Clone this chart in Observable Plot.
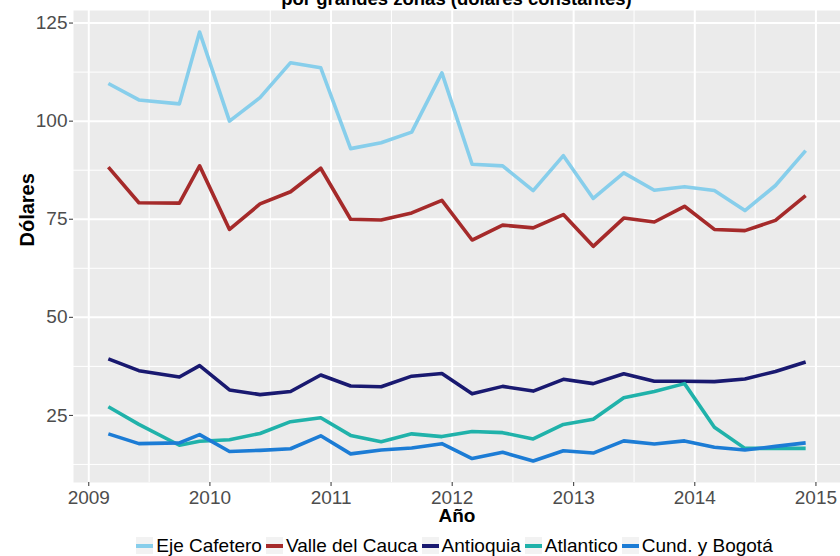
<!DOCTYPE html>
<html><head><meta charset="utf-8">
<script src="https://cdn.jsdelivr.net/npm/d3@7"></script>
<script src="https://cdn.jsdelivr.net/npm/@observablehq/plot@0.6"></script>
<style>
body{margin:0;background:#fff;font-family:"Liberation Sans",Arial,sans-serif;width:840px;height:556px;overflow:hidden;}
#title{position:relative;height:10px;}
#title span{position:absolute;left:73px;right:0;text-align:center;top:-10.2px;font-size:18.5px;line-height:18.5px;font-weight:bold;white-space:nowrap;color:#000;}
#chart svg{display:block;}
#chart g[aria-label="x-axis tick label"] text, #chart g[aria-label="y-axis tick label"] text{fill:#4D4D4D;}
#legend{display:flex;justify-content:center;align-items:center;padding-left:73px;margin-top:5px;height:17px;font-size:19px;line-height:17px;color:#000;}
#legend .item{display:flex;align-items:center;margin-right:4px;}
#legend .key{position:relative;width:17px;height:17px;background:#F2F2F2;}
#legend .key i{position:absolute;left:0;right:0;top:6.5px;height:4px;}
#legend .lab{margin-left:3px;white-space:nowrap;}
</style>
</head><body>
<div id="title"><span>por grandes zonas (dólares constantes)</span></div>
<div id="chart"></div>
<div id="legend"></div>
<script>
// Fechas (trimestrales)
const fechas = ["2009-03-01","2009-06-01","2009-10-01","2009-12-01",
  "2010-03-01","2010-06-01","2010-09-01","2010-12-01",
  "2011-03-01","2011-06-01","2011-09-01","2011-12-01",
  "2012-03-01","2012-06-01","2012-09-01","2012-12-01",
  "2013-03-01","2013-06-01","2013-09-01","2013-12-01",
  "2014-03-01","2014-06-01","2014-09-01","2014-12-01"];
const zonas = ["Eje Cafetero","Valle del Cauca","Antioquia","Atlantico","Cund. y Bogotá"];
const colores = ["#87CEEB","#A52A2A","#191970","#20B2AA","#1C7CD5"];
const ejeCafetero = [109.6,105.4,104.4,122.7, 100.0,106.0,114.9,113.6, 93.0,94.5,97.2,112.3, 89.0,88.6,82.3,91.2, 80.3,86.8,82.4,83.3, 82.3,77.2,83.6,92.5];
const valleCauca = [88.3,79.2,79.1,88.6, 72.4,78.9,82.0,88.0, 75.0,74.8,76.6,79.8, 69.7,73.5,72.8,76.2, 68.1,75.3,74.3,78.3, 72.4,72.1,74.7,81.0];
const antioquia = [39.4,36.4,34.8,37.7, 31.5,30.3,31.1,35.3, 32.5,32.3,35.0,35.7, 30.5,32.4,31.2,34.2, 33.1,35.6,33.7,33.7, 33.6,34.3,36.2,38.6];
const atlantico = [27.2,22.7,17.4,18.4, 18.8,20.4,23.4,24.4, 19.9,18.3,20.3,19.6, 20.9,20.6,19.0,22.7, 24.0,29.5,31.1,33.1, 22.0,16.6,16.6,16.6];
const cundBogota = [20.3,17.8,18.0,20.1, 15.8,16.1,16.5,19.8, 15.2,16.2,16.7,17.8, 14.0,15.6,13.4,16.0, 15.4,18.5,17.7,18.5, 16.9,16.2,17.1,18.0];
const yTicks = [25,50,75,100,125];
const yMinor = [12.5,37.5,62.5,87.5,112.5];
const xYears = ["2009","2010","2011","2012","2013","2014","2015"];
const xMinorDates = ["2009-07-02","2010-07-02","2011-07-02","2012-07-02","2013-07-02","2014-07-02"];

const serieValores = [ejeCafetero, valleCauca, antioquia, atlantico, cundBogota];
const data = [];
zonas.forEach((z, i) => {
  fechas.forEach((f, j) => data.push({zona: z, fecha: new Date(f), valor: serieValores[i][j]}));
});
const xTicks = xYears.map(y => new Date(y + "-01-01"));
const xMinor = xMinorDates.map(d => new Date(d));

const chart = Plot.plot({
  width: 840, height: 522,
  marginTop: 0, marginLeft: 73, marginRight: 0, marginBottom: 50,
  style: {fontFamily: "Liberation Sans, Arial, sans-serif", fontSize: "19px", background: "transparent", overflow: "visible"},
  x: {type: "utc", domain: [new Date("2008-11-16"), new Date("2015-03-16")]},
  y: {domain: [7.9, 128.2]},
  color: {domain: zonas, range: colores},
  marks: [
    Plot.frame({fill: "#EBEBEB", stroke: null}),
    Plot.ruleY(yMinor, {stroke: "white", strokeWidth: 1}),
    Plot.ruleX(xMinor, {stroke: "white", strokeWidth: 1}),
    Plot.ruleY(yTicks, {stroke: "white", strokeWidth: 2}),
    Plot.ruleX(xTicks, {stroke: "white", strokeWidth: 2}),
    Plot.line(data, {x: "fecha", y: "valor", z: "zona", stroke: "zona", strokeWidth: 3.6, strokeLinecap: "butt"}),
    Plot.axisX({ticks: xTicks, tickFormat: d3.utcFormat("%Y"), tickSize: 4, tickPadding: 4, stroke: "#333", label: null}),
    Plot.axisY({ticks: yTicks, tickSize: 4, tickPadding: 2, stroke: "#333", label: null}),
    Plot.text(["Año"], {frameAnchor: "bottom", dy: 39, fontWeight: "bold", fontSize: 19, fill: "#000"}),
    Plot.text(["Dólares"], {frameAnchor: "left", dx: -46, rotate: -90, fontWeight: "bold", fontSize: 20, fill: "#000"})
  ]
});
document.getElementById("chart").appendChild(chart);

const legend = document.getElementById("legend");
zonas.forEach((z, i) => {
  const item = document.createElement("div");
  item.className = "item";
  const key = document.createElement("span");
  key.className = "key";
  const ln = document.createElement("i");
  ln.style.background = colores[i];
  key.appendChild(ln);
  const lab = document.createElement("span");
  lab.className = "lab";
  lab.textContent = z;
  item.appendChild(key);
  item.appendChild(lab);
  legend.appendChild(item);
});
</script>
</body></html>
